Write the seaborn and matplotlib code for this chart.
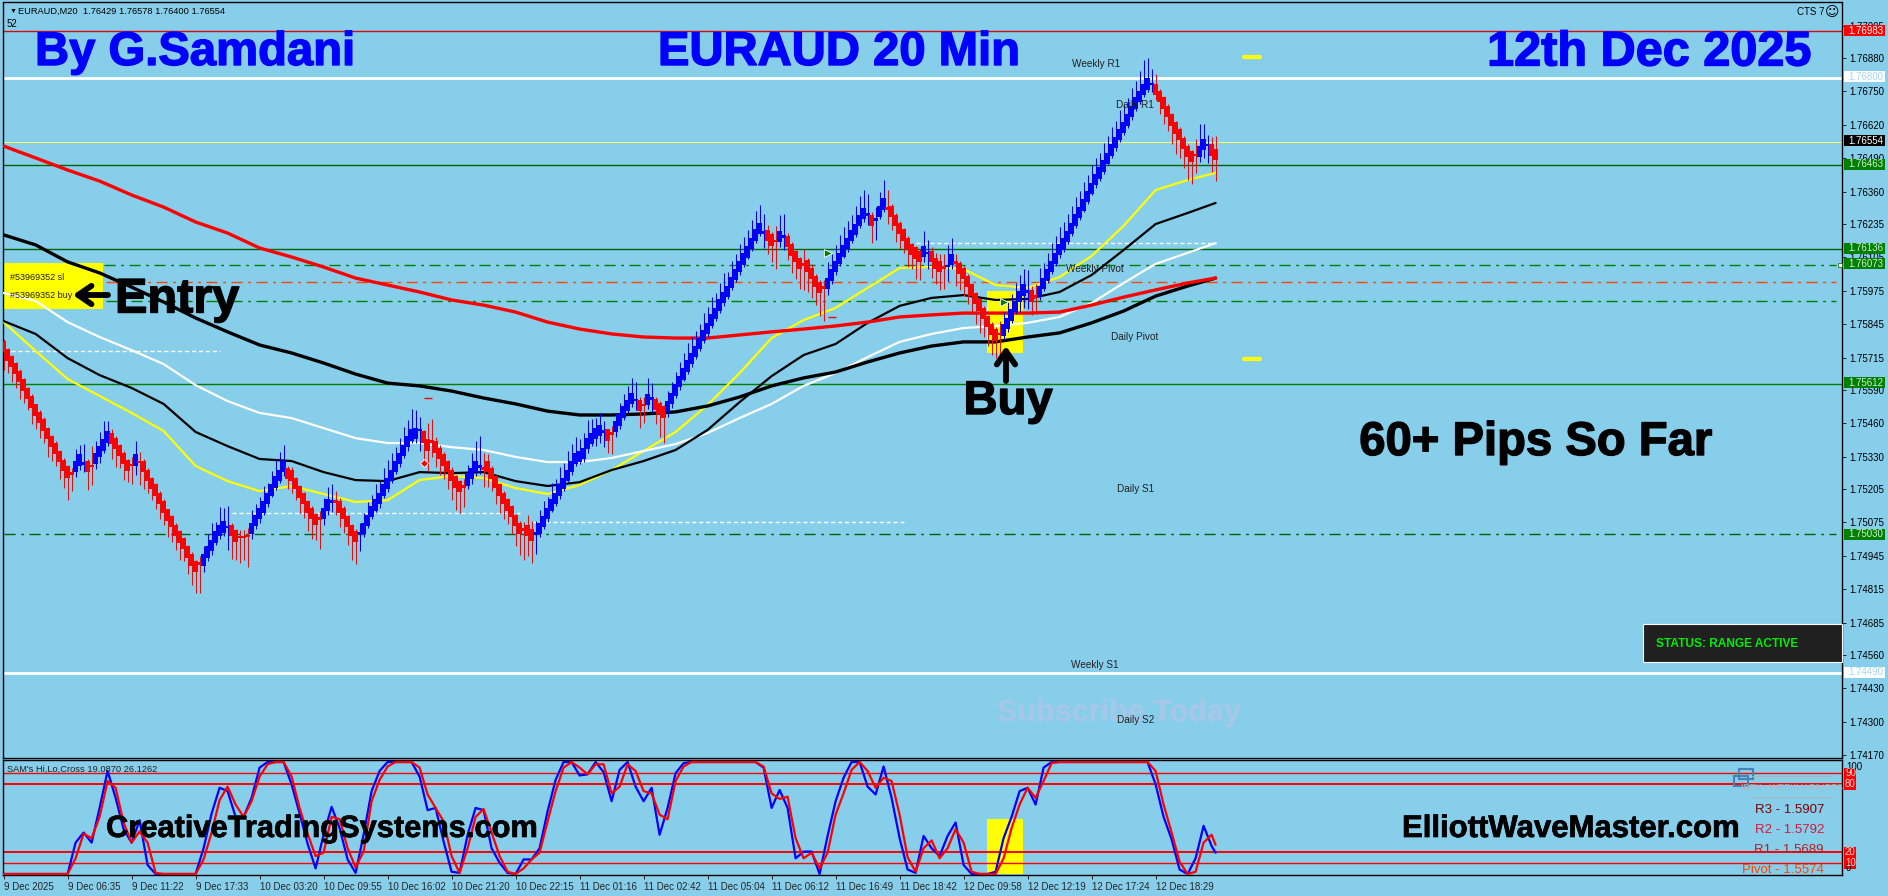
import numpy as np
import pandas as pd
import matplotlib
matplotlib.use('Agg')
import matplotlib.pyplot as plt
import matplotlib.patheffects as pe
from matplotlib.patches import Rectangle
import seaborn as sns

# all prices below are points above 1.74000
BASE = 1.74
W, H = 1888, 896

tick_times = ['9 Dec 2025', '9 Dec 06:35', '9 Dec 11:22', '9 Dec 17:33', '10 Dec 03:20', '10 Dec 09:55',
              '10 Dec 16:02', '10 Dec 21:20', '10 Dec 22:15', '11 Dec 01:16', '11 Dec 02:42', '11 Dec 05:04',
              '11 Dec 06:12', '11 Dec 16:49', '11 Dec 18:42', '12 Dec 09:58', '12 Dec 12:19', '12 Dec 17:24',
              '12 Dec 18:29']
price_ticks = ['1.77005', '1.76880', '1.76750', '1.76620', '1.76490', '1.76360', '1.76235', '1.76105', '1.75975',
               '1.75845', '1.75715', '1.75590', '1.75460', '1.75330', '1.75205', '1.75075', '1.74945', '1.74815',
               '1.74685', '1.74560', '1.74430', '1.74300', '1.74170']

# body centre of every bar, 16 bars per row
body_mid = [
    1757, 1725, 1699, 1673, 1641, 1608, 1576, 1543, 1511, 1482, 1453, 1420, 1388, 1362, 1330, 1297,
    1271, 1265, 1291, 1317, 1304, 1291, 1293, 1323, 1349, 1375, 1407, 1401, 1381, 1355, 1323, 1297,
    1297, 1317, 1310, 1291, 1258, 1226, 1200, 1167, 1135, 1103, 1077, 1044, 1018, 993, 960, 928,
    902, 915, 928, 960, 986, 1018, 1044, 1057, 1057, 1044, 1022, 1018, 1018, 1021, 1051, 1083,
    1109, 1135, 1167, 1200, 1232, 1258, 1291, 1265, 1258, 1226, 1193, 1167, 1135, 1109, 1087, 1090,
    1109, 1142, 1155, 1155, 1135, 1109, 1077, 1044, 1021, 1034, 1051, 1083, 1116, 1142, 1167, 1200,
    1226, 1258, 1291, 1323, 1355, 1388, 1414, 1420, 1433, 1407, 1375, 1388, 1368, 1342, 1317, 1291,
    1258, 1232, 1213, 1213, 1239, 1265, 1291, 1291, 1284, 1291, 1265, 1232, 1200, 1167, 1142, 1116,
    1083, 1051, 1048, 1044, 1025, 1031, 1051, 1077, 1109, 1142, 1167, 1200, 1226, 1258, 1291, 1323,
    1330, 1342, 1381, 1400, 1420, 1433, 1428, 1414, 1420, 1446, 1472, 1504, 1530, 1556, 1550, 1530,
    1530, 1552, 1556, 1533, 1517, 1504, 1524, 1556, 1589, 1621, 1651, 1682, 1712, 1738, 1770, 1802,
    1828, 1861, 1887, 1919, 1949, 1973, 2007, 2038, 2068, 2098, 2126, 2159, 2191, 2217, 2202, 2189,
    2172, 2168, 2185, 2185, 2165, 2133, 2107, 2081, 2077, 2071, 2042, 2010, 1988, 1988, 2003, 2036,
    2068, 2100, 2129, 2159, 2189, 2213, 2249, 2275, 2272, 2249, 2252, 2282, 2312, 2295, 2282, 2249,
    2217, 2191, 2159, 2135, 2121, 2108, 2127, 2121, 2108, 2082, 2069, 2066, 2071, 2095, 2084, 2062,
    2043, 2010, 1978, 1946, 1920, 1887, 1855, 1825, 1803, 1807, 1822, 1848, 1881, 1913, 1952, 1978,
    1972, 1955, 1952, 1972, 2004, 2036, 2069, 2101, 2134, 2157, 2185, 2218, 2250, 2279, 2308, 2341,
    2373, 2406, 2432, 2460, 2490, 2522, 2551, 2581, 2610, 2639, 2671, 2704, 2730, 2758, 2778, 2778,
    2758, 2730, 2704, 2671, 2639, 2607, 2581, 2548, 2516, 2496, 2503, 2516, 2542, 2542, 2522, 2503,
]
# U/D full body up/down, u/d thin body
bar_kind = ('DDDDDDDDDDDDDDDD' 'DdUUuDdUUUUDDDDD' 'dUdDDDDDDDDDDDDD' 'DdUUUUUUuDDdddUU'
            'UUUUUUUDDDDDDDDd' 'UUudDDDDDuUUUUUU' 'UUUUUUUUuDDdDDDD' 'DDDdUUUudDDDDDDD'
            'DDdDDuUUUUUUUUUU' 'UUUUUUuDdUUUUUuD' 'dUuDDDUUUUUUUUUU' 'UUUUUUUUUUUUUUuD'
            'DdUuDDDDdDDDDdUU' 'UUUUUUUUuDuUUdDD' 'DDDDDDUuDDDduUdD' 'DDDDDDDDDdUUUUUU'
            'uDdUUUUUUUUUUUUU' 'UUUUUUUUUUUUUUUu' 'DDDDDDDDDDdUUuDD')
wick_up = [
    30, 28, 26, 25, 30, 27, 26, 29, 25, 28, 30, 26, 27, 29, 25, 28,
    25, 22, 70, 60, 75, 30, 80, 68, 78, 95, 60, 35, 28, 26, 30, 25,
    30, 75, 40, 30, 28, 25, 26, 28, 30, 25, 27, 28, 26, 25, 28, 30,
    25, 30, 55, 70, 85, 60, 90, 75, 80, 30, 28, 26, 28, 30, 70, 65,
    65, 80, 60, 75, 85, 90, 85, 28, 30, 26, 25, 27, 28, 30, 25, 28,
    60, 70, 70, 40, 35, 28, 26, 25, 27, 40, 60, 70, 65, 80, 70, 85,
    90, 85, 75, 80, 90, 85, 100, 90, 50, 28, 85, 90, 40, 35, 30, 28,
    30, 26, 28, 30, 60, 80, 100, 120, 60, 50, 30, 28, 26, 30, 28, 25,
    26, 28, 30, 60, 55, 50, 70, 80, 65, 85, 75, 90, 80, 95, 90, 85,
    70, 80, 90, 75, 60, 65, 40, 25, 30, 55, 65, 70, 75, 80, 70, 30,
    30, 85, 60, 30, 28, 25, 60, 65, 70, 75, 80, 90, 85, 80, 75, 85,
    85, 90, 80, 85, 95, 75, 85, 80, 90, 85, 85, 90, 95, 90, 70, 40,
    30, 60, 85, 90, 35, 30, 28, 26, 60, 30, 35, 30, 28, 30, 85, 80,
    85, 90, 95, 85, 80, 90, 95, 90, 80, 30, 50, 75, 95, 70, 30, 28,
    28, 26, 30, 25, 28, 30, 80, 50, 35, 40, 50, 50, 80, 85, 35, 28,
    28, 30, 26, 25, 28, 30, 26, 28, 30, 50, 70, 85, 80, 90, 85, 80,
    85, 40, 50, 90, 80, 85, 90, 85, 90, 85, 90, 85, 90, 85, 90, 85,
    90, 85, 80, 90, 85, 90, 85, 95, 90, 85, 90, 85, 100, 115, 100, 60,
    60, 30, 28, 30, 26, 28, 30, 28, 30, 26, 60, 105, 80, 40, 50, 75,
]
wick_down = [
    90, 70, 80, 75, 85, 70, 65, 85, 72, 80, 68, 90, 75, 70, 85, 90,
    110, 70, 40, 38, 35, 90, 75, 40, 45, 30, 35, 80, 90, 70, 85, 65,
    75, 60, 90, 85, 70, 65, 75, 80, 70, 85, 80, 75, 90, 70, 85, 95,
    102, 115, 45, 35, 40, 30, 35, 35, 90, 110, 95, 100, 90, 120, 40, 35,
    35, 30, 32, 28, 30, 30, 35, 60, 70, 65, 80, 75, 95, 100, 80, 120,
    45, 40, 40, 50, 80, 75, 90, 115, 110, 70, 35, 32, 30, 28, 35, 30,
    35, 30, 28, 32, 30, 35, 30, 35, 80, 90, 100, 60, 80, 85, 75, 85,
    95, 110, 100, 80, 35, 40, 35, 30, 70, 80, 70, 85, 90, 80, 75, 85,
    100, 105, 120, 100, 110, 80, 35, 30, 32, 28, 30, 35, 30, 28, 32, 30,
    30, 32, 35, 30, 50, 50, 60, 70, 80, 40, 35, 30, 30, 32, 40, 90,
    70, 35, 55, 75, 110, 120, 40, 35, 30, 32, 28, 30, 32, 30, 28, 30,
    32, 30, 28, 30, 32, 30, 28, 30, 32, 30, 28, 30, 32, 30, 60, 70,
    85, 110, 40, 50, 70, 90, 85, 100, 100, 100, 95, 90, 110, 130, 45, 35,
    32, 30, 28, 32, 30, 28, 30, 32, 40, 90, 80, 30, 32, 60, 70, 85,
    80, 70, 90, 75, 100, 90, 40, 60, 85, 80, 90, 85, 60, 35, 90, 85,
    90, 85, 95, 100, 110, 90, 95, 100, 90, 85, 40, 35, 32, 30, 60, 70,
    70, 75, 60, 35, 32, 30, 28, 30, 32, 30, 28, 30, 32, 30, 28, 30,
    28, 30, 32, 30, 28, 30, 32, 30, 28, 30, 32, 30, 28, 30, 32, 30,
    40, 70, 80, 75, 95, 100, 90, 95, 110, 105, 70, 40, 50, 70, 85, 103,
]

# moving averages, read every 8 bars plus the last bar
ma_bars = list(range(0, 297, 8)) + [303]
ma_red = [2537, 2491, 2444, 2401, 2347, 2300, 2242, 2199, 2141, 2106, 2067, 2024, 1997, 1970, 1939, 1919, 1892, 1853,
          1826, 1807, 1795, 1791, 1791, 1803, 1815, 1826, 1838, 1853, 1873, 1881, 1888, 1888, 1888, 1892, 1919, 1950,
          1978, 2005, 2024]
ma_black_slow = [2192, 2153, 2087, 2044, 1989, 1931, 1869, 1815, 1764, 1733, 1694, 1651, 1616, 1605, 1585, 1558, 1535,
                 1507, 1492, 1492, 1496, 1504, 1527, 1562, 1605, 1636, 1659, 1698, 1733, 1760, 1776, 1776, 1795, 1811,
                 1850, 1896, 1954, 1993, 2024]
ma_black_fast = [1857, 1807, 1713, 1647, 1597, 1535, 1426, 1371, 1321, 1313, 1270, 1239, 1235, 1270, 1266, 1270, 1235,
                 1216, 1231, 1278, 1313, 1356, 1434, 1542, 1643, 1725, 1768, 1850, 1916, 1947, 1958, 1939, 1943, 1970,
                 2036, 2133, 2234, 2277, 2316]
ma_white = [1966, 1935, 1853, 1795, 1744, 1690, 1608, 1546, 1500, 1480, 1441, 1402, 1383, 1383, 1367, 1356, 1329, 1309,
            1309, 1325, 1352, 1379, 1422, 1480, 1535, 1605, 1655, 1717, 1776, 1807, 1830, 1838, 1850, 1873, 1927, 2005,
            2079, 2122, 2160]
ma_yellow = [1853, 1741, 1632, 1566, 1500, 1430, 1294, 1235, 1196, 1216, 1185, 1154, 1161, 1239, 1255, 1247, 1208, 1185,
             1220, 1278, 1352, 1426, 1531, 1655, 1791, 1861, 1908, 1986, 2063, 2067, 2059, 1997, 1986, 2028, 2110, 2227,
             2366, 2405, 2433]

# oscillator, read every 2 bars plus the last bar
osc_bars = list(range(0, 303, 2)) + [303]
osc_blue = [0, 0, 0, 0, 0, 0, 0, 0, 0, 28, 37, 28, 59, 92, 68, 40, 28, 48, 8, 0, 0, 0, 0, 0, 0,
            23, 54, 77, 74, 51, 51, 68, 95, 100, 100, 100, 80, 54, 27, 5, 35, 60, 41, 13, 1, 35, 74, 92,
            100, 100, 100, 100, 87, 57, 59, 29, 2, 1, 35, 59, 57, 23, 10, 1, 0, 13, 13, 23, 56, 84, 100, 100,
            88, 89, 100, 91, 65, 93, 100, 78, 65, 77, 35, 59, 90, 99,
            100, 100, 100, 100, 100, 100, 100, 100, 100,
            95, 59, 75, 59, 14, 20, 20, 0, 34, 65, 86, 100, 100, 78, 71, 96, 68, 32, 4, 1,
            34, 23, 16, 34, 46, 8, 0, 0, 0, 2, 32, 51, 74, 77, 62, 95, 100,
            100, 100, 100, 100, 100, 100, 100, 100, 100, 100, 100, 100,
            80, 51, 31, 4, 0, 14, 43, 25, 19]
osc_red = [0, 0, 0, 0, 0, 0, 0, 0, 0, 14, 36, 32, 51, 83, 77, 46, 28, 38, 28, 1, 0, 0, 0, 0, 0,
           13, 37, 66, 78, 62, 51, 65, 87, 98, 100, 100, 87, 59, 36, 16, 19, 51, 49, 23, 6, 20, 65, 84,
           96, 100, 100, 100, 95, 71, 59, 47, 16, 1, 23, 51, 58, 37, 16, 2, 0, 5, 13, 19, 47, 74, 95, 100,
           95, 89, 98, 98, 72, 78, 98, 92, 74, 72, 53, 49, 83, 96,
           100, 100, 100, 100, 100, 100, 100, 100, 100,
           96, 72, 67, 69, 32, 14, 19, 5, 19, 53, 72, 93, 100, 92, 77, 86, 83, 53, 15, 2,
           23, 30, 14, 23, 40, 28, 2, 0, 0, 0, 14, 41, 62, 77, 68, 83, 99,
           100, 100, 100, 100, 100, 100, 100, 100, 100, 100, 100, 100,
           92, 62, 37, 11, 0, 2, 28, 35, 26]
osc_levels = [90, 80, 20, 10]

def pr(points):
    return BASE + np.asarray(points, dtype=float) / 1e5

sns.set_theme(style='ticks', rc={'axes.facecolor': 'skyblue', 'figure.facecolor': 'skyblue',
                                 'axes.edgecolor': 'black', 'axes.linewidth': 1.0})
plt.rcParams['font.family'] = ['Liberation Sans', 'DejaVu Sans']

fig = plt.figure(figsize=(W / 100, H / 100), dpi=100)
ax = fig.add_axes([2.5 / W, 1 - 758 / H, (1842 - 2.5) / W, (758 - 2.5) / H])
ax2 = fig.add_axes([2.5 / W, 1 - 875 / H, (1842 - 2.5) / W, (875 - 760) / H])

bars = np.arange(len(body_mid))
mid = np.array(body_mid, dtype=float)
half = np.array([22 if k in 'UD' else 5 for k in bar_kind], dtype=float)
up = np.array([k in 'Uu' for k in bar_kind])
col = np.where(up, '#0000ff', '#ff0000')
wick_col = np.where(up, '#0000e0', '#e01010')

# horizontal levels
ax.axhline(pr(2983), color='#d01010', lw=1, zorder=1)
ax.axhline(pr(2800), color='white', lw=2, zorder=1)
ax.axhline(pr(2554), color='#ffff60', lw=0.75, zorder=1)
ax.axhline(pr(2463), color='#006400', lw=1, zorder=1)
ax.axhline(pr(2136), color='#006400', lw=1, zorder=1)
ax.axhline(pr(1612), color='#008000', lw=1, zorder=1)
ax.axhline(pr(489), color='white', lw=2, zorder=1)
dd = (0, (8, 4, 2, 4))
ax.plot([0, 458], pr([2073, 2073]), color='#008000', lw=1, ls=dd, zorder=1)
ax.plot([0.5, 458], pr([2009, 2009]), color='#ff4500', lw=1, ls=dd, zorder=1)
ax.plot([0.5, 458], pr([1935, 1935]), color='#008000', lw=1, ls=dd, zorder=1)
ax.plot([0, 458], pr([1030, 1030]), color='#006400', lw=1, ls=dd, zorder=1)

# white dashed and small yellow levels
ax.plot([0, 54], pr([1741, 1741]), color='white', lw=1, ls=(0, (3, 2)), zorder=2)
ax.plot([57, 129], pr([1111, 1111]), color='white', lw=1, ls=(0, (3, 2)), zorder=2)
ax.plot([132, 225], pr([1076, 1076]), color='white', lw=1, ls=(0, (3, 2)), zorder=2)
ax.plot([228, 303], pr([2160, 2160]), color='white', lw=1, ls=(0, (3, 2)), zorder=2)
ax.plot([310, 314], pr([2883, 2883]), color='#ffff00', lw=3, zorder=2)
ax.plot([310, 314], pr([1710, 1710]), color='#ffff00', lw=3, zorder=2)

# yellow boxes
ax.fill_between([-0.15, 24.85], pr(1904), pr(2083), color='#ffff00', lw=0, zorder=1.5)
ax.fill_between([245.85, 254.85], pr(1733), pr(1974), color='#ffff00', lw=0, zorder=1.5)
ax2.fill_between([245.85, 254.85], 0, 49, color='#ffff00', lw=0, zorder=1)

# moving averages
ma = pd.DataFrame({'bar': ma_bars, 'red': pr(ma_red), 'bs': pr(ma_black_slow), 'bf': pr(ma_black_fast),
                   'white': pr(ma_white), 'yellow': pr(ma_yellow)})
sns.lineplot(data=ma, x='bar', y='yellow', ax=ax, color='#ffff00', linewidth=1.6, zorder=3)
sns.lineplot(data=ma, x='bar', y='white', ax=ax, color='white', linewidth=1.6, zorder=3)
sns.lineplot(data=ma, x='bar', y='bf', ax=ax, color='black', linewidth=1.6, zorder=3)
sns.lineplot(data=ma, x='bar', y='bs', ax=ax, color='black', linewidth=2.4, zorder=3)
sns.lineplot(data=ma, x='bar', y='red', ax=ax, color='#ff0000', linewidth=2.4, zorder=3)

# bars
ax.vlines(bars, pr(mid - np.array(wick_down)), pr(mid + np.array(wick_up)), colors=wick_col, lw=0.75, zorder=4)
ax.bar(bars, 2 * half / 1e5, bottom=pr(mid - half), width=1.3, color=col, lw=0, zorder=5)

# small trade markers
ax.plot([206, 250], pr([2122, 1931]), ls='none', marker='>', ms=6, mfc='#008000', mec='white', mew=0.6, zorder=6)
ax.plot([105], pr([1305]), ls='none', marker='D', ms=4, mfc='#ff0000', mec='white', mew=0.6, zorder=6)
ax.plot([106, 207], pr([1558, 1873]), ls='none', marker='_', ms=6, mec='#ff0000', mew=1, zorder=6)

ax.set_xlim(-0.275, 459.6)
ax.set_ylim(pr(159), pr(3095))
ax.yaxis.tick_right()
ax.set_yticks([float(t) for t in price_ticks])
ax.set_yticklabels(price_ticks, fontsize=7, color='black')
ax.tick_params(axis='y', length=3, width=0.7, pad=2)
ax.set_xticks([])
ax.set(xlabel=None, ylabel=None)

# oscillator
for lev in osc_levels:
    ax2.axhline(lev, color='#ff0000', lw=1 if lev in (10, 90) else 1.4, zorder=2)
osc = pd.DataFrame({'bar': osc_bars, 'blue': osc_blue, 'red': osc_red})
sns.lineplot(data=osc, x='bar', y='blue', ax=ax2, color='#0000ff', linewidth=1.6, zorder=3)
sns.lineplot(data=osc, x='bar', y='red', ax=ax2, color='#ff0000', linewidth=1.6, zorder=4)
ax2.set_xlim(-0.275, 459.6)
ax2.set_ylim(-0.9, 101.8)
ax2.set_yticks([])
ax2.set_xticks(np.arange(len(tick_times)) * 16)
ax2.set_xticklabels(tick_times, fontsize=7, ha='left')
ax2.tick_params(axis='x', length=3, width=0.7, pad=2)
ax2.set(xlabel=None, ylabel=None)

def put(x, y, s, **kw):
    kw.setdefault('va', 'center')
    return fig.text(x / W, 1 - y / H, s, **kw)

def big(x, y, s, size, color='black', ha='center', stroke=1.0):
    t = put(x, y, s, fontsize=size, fontweight='bold', color=color, ha=ha)
    t.set_path_effects([pe.withStroke(linewidth=stroke, foreground=color)])

def box(x0, y0, x1, y1, **kw):
    fig.add_artist(Rectangle((x0 / W, 1 - y1 / H), (x1 - x0) / W, (y1 - y0) / H, transform=fig.transFigure, **kw))

# big titles
big(35, 53, 'By G.Samdani', 34, '#0000ff', 'left')
big(839, 53, 'EURAUD 20 Min', 34, '#0000ff')
big(1811, 53, '12th Dec 2025', 35, '#0000ff', 'right')
big(115, 300, 'Entry', 35, 'black', 'left')
big(1008, 402, 'Buy', 34)
big(1536, 443, '60+ Pips So Far', 34)
big(322, 829, 'CreativeTradingSystems.com', 22.2, stroke=0.5)
big(1571, 829, 'ElliottWaveMaster.com', 22.4, stroke=0.5)
big(1119, 713, 'Subscribe Today', 22, '#a5c8e8', stroke=0.3)

# arrows
ax.annotate('', xy=(73 / W, 1 - 295 / H), xytext=(108 / W, 1 - 295 / H), xycoords='figure fraction',
            textcoords='figure fraction', zorder=8,
            arrowprops=dict(arrowstyle='->,head_length=0.8,head_width=0.55', lw=4.2, color='black', shrinkA=0, shrinkB=0))
ax.annotate('', xy=(1006 / W, 1 - 346 / H), xytext=(1006 / W, 1 - 381 / H), xycoords='figure fraction',
            textcoords='figure fraction', zorder=8,
            arrowprops=dict(arrowstyle='->,head_length=0.8,head_width=0.55', lw=4.2, color='black', shrinkA=0, shrinkB=0))

# pivot names
pivot_names = [('Weekly R1', 1096, 64), ('Daily R1', 1135, 105), ('Weekly Pivot', 1095, 269), ('Daily Pivot', 1135, 337),
               ('Daily S1', 1136, 489), ('Weekly S1', 1095, 665), ('Daily S2', 1136, 720)]
for name, x, y in pivot_names:
    put(x, y, name, fontsize=7.2, color='#222222', ha='center')

# header texts
put(10, 11, '\u25bc', fontsize=5, color='black')
put(18, 11, 'EURAUD,M20  1.76429 1.76578 1.76400 1.76554', fontsize=6.7, color='black')
put(7, 24, '52', fontsize=7, color='black')
put(1797, 12, 'CTS 7', fontsize=7, color='black')
put(1825, 12, '\u263a', fontsize=10, color='black', family='DejaVu Sans')
put(10, 277, '#53969352 sl', fontsize=6.5, color='#222222')
put(10, 296, '#53969352 buy', fontsize=6.5, color='#222222')
put(7, 769, "SAM's Hi,Lo,Cross 19.0870 26.1262", fontsize=6.7, color='#222222')

# price tags on the scale
price_tags = [('1.76983', 31, '#ff0000', 'white'), ('1.76800', 77, 'white', '#a8d8f0'), ('1.76554', 141, 'black', 'white'),
              ('1.76463', 164, '#008000', '#d0f0d0'), ('1.76136', 248, '#008000', '#d0f0d0'),
              ('1.76073', 264, '#008000', '#d0f0d0'), ('1.75612', 383, '#008000', '#d0f0d0'),
              ('1.75030', 534, '#008000', '#d0f0d0'), ('1.74490', 672, 'white', '#a8d8f0')]
for s, y, bg, fg in price_tags:
    box(1844, y - 5.5, 1885, y + 5.5, facecolor=bg, edgecolor='none')
    put(1848, y, s, fontsize=7, color=fg)
box(1838, 263, 1842, 267, facecolor='white', edgecolor='#006400', lw=0.5)

# oscillator scale
put(1846, 767, '100', fontsize=7, color='black')
put(1846, 868, '0', fontsize=7, color='black')
for s, y in [('90', 773), ('80', 784), ('20', 852), ('10', 863)]:
    box(1844, y - 5.5, 1856, y + 5.5, facecolor='#ff0000', edgecolor='none')
    put(1845, y, s, fontsize=7, color='#ffd0d0')

# status panel
box(1643, 624, 1842, 662, facecolor='#202020', edgecolor='white', lw=0.8)
put(1656, 644, 'STATUS: RANGE ACTIVE', fontsize=8.6, fontweight='bold', color='#00ee00')

# weekly pivots widget
box(1739, 769, 1753, 779, facecolor='none', edgecolor='#4682b4', lw=1.5)
box(1734, 776, 1748, 786, facecolor='none', edgecolor='#4682b4', lw=1.5)
box(1752, 776, 1832, 776.7, facecolor='#a9b5bb', edgecolor='none')
box(1752, 797, 1832, 797.7, facecolor='#a9b5bb', edgecolor='none')
put(1741, 787, 'IBFX - WEEKLY PIVOTS', fontsize=6.6, color='#a9b9c0')
put(1824, 810, 'R3 - 1.5907', fontsize=9.5, color='#800000', ha='right')
put(1824, 830, 'R2 - 1.5792', fontsize=9.5, color='#dc143c', ha='right')
put(1824, 850, 'R1 - 1.5689', fontsize=9.5, color='#b22222', ha='right')
put(1824, 870, 'Pivot - 1.5574', fontsize=9.5, color='#ff4500', ha='right')

plt.savefig('out.png', dpi=100)
